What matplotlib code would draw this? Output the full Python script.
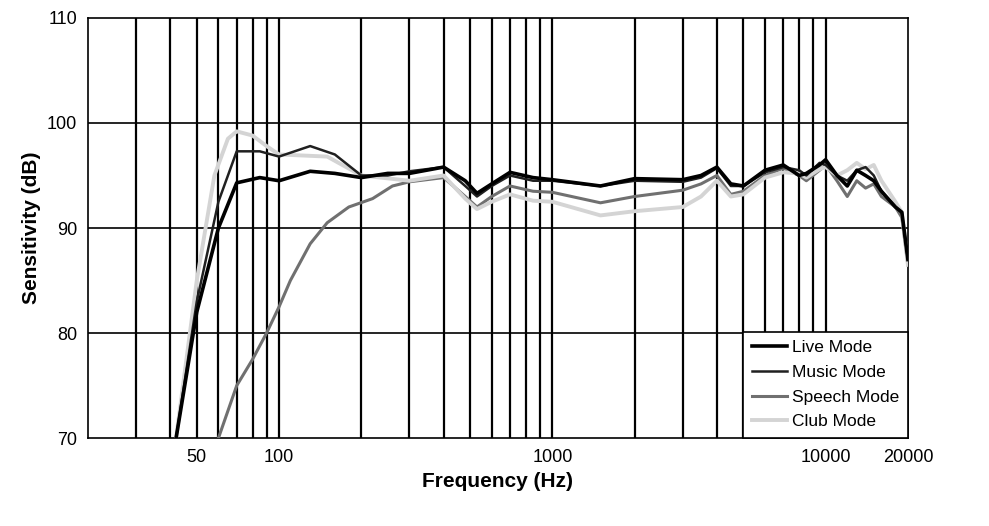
import matplotlib
matplotlib.use("Agg")
import matplotlib.pyplot as plt
import numpy as np

plt.rcParams['font.family'] = ['Liberation Sans', 'DejaVu Sans']

freq_live = [42, 50, 60, 70, 85, 100, 130, 160, 200, 250, 300, 400, 480, 530, 600, 700, 850, 1000, 1500, 2000, 3000, 3500, 4000, 4500, 5000, 6000, 7000, 8000, 8500, 9500, 10000, 11000, 12000, 13000, 14000, 15000, 16000, 18000, 19000, 20000]
live = [70, 82, 90, 94.3, 94.8, 94.5, 95.4, 95.2, 94.8, 95.2, 95.2, 95.8, 94.5, 93.3, 94.2, 95.3, 94.8, 94.6, 94.0, 94.7, 94.6, 95.0, 95.8, 94.2, 94.0, 95.5, 96.0, 95.0, 95.2, 96.0, 96.5, 95.0, 94.0, 95.5, 95.0, 94.5, 93.5, 92.0, 91.5, 87.0]
music = [70, 83, 92.5, 97.3, 97.3, 96.8, 97.8, 97.0, 95.0, 95.0, 95.4, 95.8, 94.0, 93.0, 94.0, 95.0, 94.5, 94.5, 94.0, 94.5, 94.4, 94.8, 95.7, 94.0, 94.0, 95.3, 95.8, 95.5, 95.0, 96.2, 96.0, 95.0, 94.5, 95.5, 95.8, 95.0, 93.5, 92.0, 91.5, 87.0]
freq_speech = [60, 70, 80, 90, 100, 110, 130, 150, 180, 220, 260, 300, 400, 480, 530, 600, 700, 850, 1000, 1500, 2000, 3000, 3500, 4000, 4500, 5000, 6000, 7000, 8000, 8500, 9500, 10000, 11000, 12000, 13000, 14000, 15000, 16000, 18000, 19000, 20000]
speech = [70, 75, 77.5, 80, 82.5, 85, 88.5, 90.5, 92, 92.8, 94.0, 94.4, 94.8, 93.0, 92.0, 93.0, 94.0, 93.5, 93.4, 92.4, 93.0, 93.6, 94.2, 95.0, 93.2, 93.5, 95.0, 95.7, 95.0, 94.5, 95.5, 96.0, 94.5, 93.0, 94.5, 93.8, 94.2, 93.0, 92.0, 91.0, 86.5]
freq_club = [42, 50, 58, 65, 70, 80, 90, 100, 150, 200, 300, 400, 480, 530, 600, 700, 850, 1000, 1500, 2000, 3000, 3500, 4000, 4500, 5000, 6000, 7000, 8000, 8500, 9500, 10000, 11000, 12000, 13000, 14000, 15000, 16000, 18000, 19000, 20000]
club = [70, 85, 95, 98.5, 99.2, 98.8, 97.8, 97.0, 96.8, 95.0, 94.5, 95.0, 92.8, 91.8, 92.5, 93.2, 92.6, 92.5, 91.2, 91.6, 92.0, 93.0, 94.5, 93.0, 93.2, 94.8, 95.3, 95.2, 94.8, 95.6, 95.8, 95.0, 95.5, 96.2, 95.6, 96.0, 94.5, 92.5, 91.5, 86.5]

fig = plt.figure(figsize=(9.89, 5.26), dpi=100)
ax = fig.add_axes([0.089, 0.167, 0.829, 0.799])
grid_x = [30, 40, 50, 60, 70, 80, 90, 100, 200, 300, 400, 500, 600, 700, 800, 900, 1000,
          2000, 3000, 4000, 5000, 6000, 7000, 8000, 9000, 10000]
for g in grid_x:
    ax.axvline(g, color='black', lw=1.6, zorder=1)
for y in [80, 90, 100]:
    ax.axhline(y, color='black', lw=1.2, zorder=1)

ax.plot(freq_speech, speech, color='#707070', lw=2.2, label='Speech Mode', zorder=3)
ax.plot(freq_club, club, color='#d4d4d4', lw=2.8, label='Club Mode', zorder=3)
ax.plot(freq_live, music, color='#202020', lw=1.8, label='Music Mode', zorder=4)
ax.plot(freq_live, live, color='#000000', lw=2.6, label='Live Mode', zorder=5)

ax.set_xscale('log')
ax.set_xlim(20, 20000)
ax.set_ylim(70, 110)
ax.set_xticks([50, 100, 1000, 10000, 20000])
ax.set_xticklabels(['50', '100', '1000', '10000', '20000'])
ax.xaxis.set_minor_locator(matplotlib.ticker.NullLocator())
ax.set_yticks([70, 80, 90, 100, 110])
ax.tick_params(length=0, labelsize=13, pad=8)
ax.set_xlabel('Frequency (Hz)', fontsize=15, fontweight='bold')
ax.set_ylabel('Sensitivity (dB)', fontsize=15, fontweight='bold')
for s in ax.spines.values():
    s.set_linewidth(1.2)

h, l = ax.get_legend_handles_labels()
order = [3, 2, 0, 1]
leg = ax.legend([h[i] for i in order], [l[i] for i in order], loc='lower right',
                fancybox=False, edgecolor='black', fontsize=12.5, borderaxespad=0,
                handlelength=2.0, handletextpad=0.3, labelspacing=0.55,
                borderpad=0.5, framealpha=1)
leg.get_frame().set_linewidth(1.2)
fig.savefig('out.png', dpi=100)
